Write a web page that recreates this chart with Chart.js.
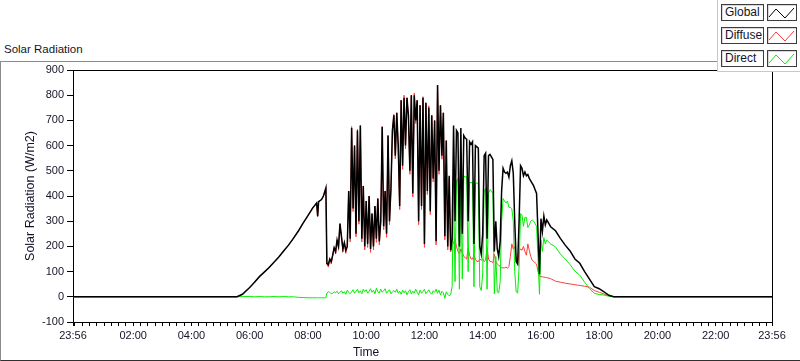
<!DOCTYPE html>
<html>
<head>
<meta charset="utf-8">
<script src="https://cdn.jsdelivr.net/npm/chart.js@4.4.1/dist/chart.umd.min.js"></script>
<style>
    body { margin: 0; background: #fff; font-family: "Liberation Sans", Arial, sans-serif; color: #141428; }
    #wrap { position: relative; width: 800px; height: 361px; overflow: hidden; }
    #frame { position: absolute; left: 0; top: 61px; width: 800px; height: 300px; box-sizing: border-box;
        border-top: 1px solid #8c8c8c; border-left: 1px solid #8c8c8c; border-bottom: 1px solid #303030; }
    #caption { position: absolute; left: 4px; top: 43px; font-size: 11.5px; }
    #chart { position: absolute; left: 0; top: 0; }
    #legend { position: absolute; left: 717px; top: 0; width: 83px; height: 72px; background: #fff;
        box-sizing: border-box; border-left: 1px solid #c8c8c8; border-bottom: 1px solid #c8c8c8; }
    .lg-name { position: absolute; left: 3px; width: 43px; height: 17px; box-sizing: border-box;
        border: 1px solid #3c3c3c; box-shadow: inset 1px 1px 0 #d8d8d8; font-size: 12px; line-height: 15px;
        padding-left: 3px; background: #fff; white-space: nowrap; }
    .lg-line { position: absolute; left: 49px; width: 30px; height: 17px; box-sizing: border-box;
        border: 1px solid #3c3c3c; box-shadow: inset 1px 1px 0 #d8d8d8; background: #fff; }
    .lg-line svg { position: absolute; left: 0; top: 0; }
</style>
</head>
<body>
<div id="wrap">
    <div id="frame"></div>
    <div id="caption">Solar Radiation</div>
    <canvas id="chart" width="800" height="361"></canvas>
    <div id="legend"></div>
</div>
<script>
// minutes after midnight (-4 = 23:56 of the previous day)
const times = [
    -4, 334, 345, 360, 370, 380, 390, 400, 410, 420, 430, 440, 450, 460, 470, 480, 490, 498, 500, 502, 508, 512, 517,
    519, 522, 525, 528, 531, 534, 537, 540, 543, 546,
    549, 552, 555, 558, 561, 564, 567, 570, 573, 576,
    579, 582, 585, 588, 591, 594, 597, 600, 603, 606,
    609, 612, 615, 618, 621, 624, 627, 630, 633, 636,
    639, 642, 645, 648, 651, 654, 657, 660, 663, 666,
    669, 672, 675, 678, 681, 684, 687, 690, 693, 696,
    699, 702, 705, 708, 711, 714, 717, 720, 723, 726,
    729, 732, 735, 738, 741, 744, 747, 750, 753, 756,
    759, 762, 765, 768, 771, 774,
    777, 780, 783, 786, 789, 792, 795, 798, 801, 804,
    807, 810, 813, 816, 819, 822, 825, 828, 831, 834,
    837, 840, 843, 846, 849, 852, 855, 858, 861, 864,
    867, 870, 873, 876, 879, 882, 885, 888, 891, 894,
    897, 900, 903, 906, 909, 912, 915, 918, 921, 924,
    927, 930, 933, 936, 939, 942, 945, 948, 951, 954,
    957, 960, 963, 966, 969, 972,
    980, 990, 1000, 1010, 1020, 1030, 1040, 1050, 1060, 1070, 1080, 1090, 1100, 1110, 1436
];

const globalRad = [
    0, 0, 10, 37, 58, 80, 98, 116, 137, 158, 182, 205, 232, 260, 292, 322, 353, 372, 320, 378, 386, 400, 432,
    133, 128, 150, 140, 165, 195, 180, 225, 200, 290,
    240, 190, 215, 185, 200, 420, 230, 670, 350, 600,
    250, 660, 300, 680, 230, 440, 200, 380, 210, 400,
    190, 330, 200, 360, 230, 390, 220, 300, 675, 280,
    420, 250, 640, 300, 430, 660, 720, 560, 730, 600,
    360, 780, 520, 790, 600, 790, 720, 500, 800, 410,
    800, 700, 780, 300, 760, 360, 790, 210, 770, 420,
    750, 340, 720, 470, 700, 220, 840, 500, 760, 560,
    730, 240, 620, 200, 480, 185,
    230, 680, 300, 660, 650, 200, 670, 250, 640, 630,
    625, 300, 615, 605, 615, 210, 600, 595, 590, 200,
    170, 250, 560, 570, 230, 560, 565, 555, 545, 180,
    300, 190, 160, 220, 420, 510, 495, 490, 495, 475,
    520, 540, 490, 300, 140, 130, 300, 520, 510, 480,
    495, 480, 485, 470, 460, 450, 440, 425, 410, 250,
    90, 310, 260, 320, 285, 305,
    278, 262, 232, 205, 182, 150, 133, 100, 70, 40, 32, 20, 6, 0, 0
];

const diffuseRad = [
    0, 0, 10, 37, 58, 80, 98, 118, 137, 158, 184, 205, 232, 262, 292, 322, 355, 372, 318, 378, 386, 402, 432,
    130, 118, 150, 130, 165, 195, 170, 225, 190, 292,
    240, 178, 215, 172, 200, 420, 218, 676, 338, 600,
    238, 665, 288, 680, 218, 440, 186, 380, 196, 400,
    176, 330, 186, 360, 216, 390, 206, 300, 675, 266,
    420, 236, 640, 286, 430, 660, 724, 548, 730, 588,
    346, 780, 506, 800, 588, 790, 708, 486, 800, 396,
    808, 688, 780, 286, 760, 346, 794, 196, 770, 406,
    758, 326, 720, 456, 700, 206, 840, 486, 760, 546,
    730, 226, 620, 186, 470, 178,
    200, 215, 230, 200, 180, 170, 190, 175, 160, 155,
    150, 195, 165, 150, 150, 165, 150, 140, 140, 150,
    145, 150, 140, 145, 195, 150, 140, 140, 135, 170,
    140, 130, 125, 120, 115, 115, 115, 118, 113, 120,
    160, 210, 190, 200, 150, 130, 180, 190, 185, 200,
    180, 165, 210, 185, 160, 145, 140, 135, 130, 100,
    82, 80, 79, 78, 77, 76,
    72, 62, 58, 54, 51, 48, 45, 42, 38, 25, 18, 11, 4, 0, 0
];

const directRad = [
    0, 0, 1, 1, 0, 1, 0, 0, 1, 0, 1, 0, 0, -2, -3, -4, -4, -4, -4, -4, -4, -4, -4,
    15, 20, 18, 12, 14, 20, 16, 22, 12, 18,
    24, 14, 20, 10, 26, 18, 12, 20, 28, 14,
    22, 30, 16, 24, 12, 30, 20, 28, 14, 22,
    32, 18, 26, 12, 34, 20, 15, 30, 18, 24,
    32, 14, 22, 28, 12, 20, 25, 18, 30, 14,
    22, 10, 26, 16, 24, 8, 20, 28, 12, 22,
    15, 30, 18, 8, 26, 14, 22, 30, 12, 20,
    28, 16, 10, 24, 18, 30, 14, 26, 8, 22,
    16, -6, 20, 10, 4, 8,
    40, 450, 60, 460, 470, 30, 480, 70, 480, 475,
    478, 100, 455, 452, 455, 40, 450, 452, 448, 40,
    25, 90, 420, 430, 30, 410, 425, 420, 410, 12,
    160, 20, 15, 60, 300, 390, 380, 372, 380, 355,
    355, 350, 300, 100, 20, 15, 120, 330, 325, 280,
    315, 315, 275, 285, 300, 305, 300, 290, 280, 150,
    10, 225, 180, 235, 210, 225,
    210, 198, 170, 150, 128, 102, 86, 58, 32, 14, 9, 7, 2, 0, 0
];

const majorTicks = [-4, 120, 240, 360, 480, 600, 720, 840, 960, 1080, 1200, 1320, 1436];
const timeLabels = ['23:56', '02:00', '04:00', '06:00', '08:00', '10:00', '12:00', '14:00', '16:00', '18:00', '20:00', '22:00', '23:56'];
const yTickValues = [-100, 0, 100, 200, 300, 400, 500, 600, 700, 800, 900];

const series = [
    { name: 'Global', values: globalRad, color: '#000000', width: 1.5 },
    { name: 'Diffuse', values: diffuseRad, color: '#ff3c3c', width: 1 },
    { name: 'Direct', values: directRad, color: '#00ee00', width: 1 }
];

const FONT = { family: '"Liberation Sans", Arial, sans-serif', size: 11 };
const TEXT_COLOR = '#141428';

// minor ticks every 15 min plus the two 23:56 ends
const xTicks = [...majorTicks];
for (let m = 0; m < 1436; m += 15) {
    if (!xTicks.includes(m)) xTicks.push(m);
}
xTicks.sort((a, b) => a - b);

const toPoints = (values) => times.map((t, i) => ({ x: t, y: values[i] }));

const framePlugin = {
    id: 'frame',
    afterDraw: (chart) => {
        const { ctx, chartArea } = chart;
        const l = Math.round(chartArea.left) + 0.5;
        const r = Math.round(chartArea.right) + 0.5;
        const t = Math.round(chartArea.top) + 0.5;
        const b = Math.round(chartArea.bottom) + 0.5;
        ctx.save();
        ctx.strokeStyle = '#000';
        ctx.lineWidth = 1;
        ctx.beginPath();
        ctx.moveTo(l, t);
        ctx.lineTo(r, t);
        ctx.lineTo(r, b);
        ctx.stroke();

        ctx.fillStyle = TEXT_COLOR;
        ctx.textAlign = 'center';
        ctx.textBaseline = 'middle';
        ctx.font = '12px "Liberation Sans", Arial, sans-serif';
        ctx.fillText('Time', 366, 353);
        ctx.font = '12.5px "Liberation Sans", Arial, sans-serif';
        ctx.translate(31, (chartArea.top + chartArea.bottom) / 2);
        ctx.rotate(-Math.PI / 2);
        ctx.fillText('Solar Radiation (W/m2)', 0, 0);
        ctx.restore();
    }
};

const ctx = document.getElementById('chart');

new Chart(ctx, {
    type: 'scatter',
    data: {
        datasets: series.map((s, i) => ({
            label: s.name,
            data: toPoints(s.values),
            showLine: true,
            borderColor: s.color,
            backgroundColor: s.color,
            borderWidth: s.width,
            pointRadius: 0,
            // Global on top, Diffuse at the bottom
            order: [1, 3, 2][i]
        }))
    },
    options: {
        responsive: false,
        animation: false,
        layout: { padding: { top: 70, right: 28, left: 0, bottom: 0 } },
        plugins: { legend: { display: false }, tooltip: { enabled: false } },
        scales: {
            x: {
                type: 'linear',
                min: -4,
                max: 1436,
                afterBuildTicks: (scale) => { scale.ticks = xTicks.map(v => ({ value: v })); },
                afterFit: (scale) => { scale.height = 39; },
                grid: { drawOnChartArea: false, tickLength: 4, color: '#000' },
                border: { color: '#000', width: 1 },
                ticks: {
                    autoSkip: false,
                    maxRotation: 0,
                    padding: 3,
                    color: TEXT_COLOR,
                    font: FONT,
                    callback: (v) => {
                        const k = majorTicks.indexOf(v);
                        return k >= 0 ? timeLabels[k] : '';
                    }
                }
            },
            y: {
                min: -100,
                max: 900,
                afterBuildTicks: (scale) => { scale.ticks = yTickValues.map(v => ({ value: v })); },
                afterFit: (scale) => { scale.width = 73; },
                grid: { drawOnChartArea: false, tickLength: 6, color: '#000' },
                border: { color: '#000', width: 1 },
                ticks: { padding: 3, color: TEXT_COLOR, font: FONT }
            }
        }
    },
    plugins: [framePlugin]
});

// legend boxes
const legend = document.getElementById('legend');
series.forEach((s, i) => {
    const top = 4 + i * 23;
    const name = document.createElement('div');
    name.className = 'lg-name';
    name.style.top = top + 'px';
    name.textContent = s.name;
    const line = document.createElement('div');
    line.className = 'lg-line';
    line.style.top = top + 'px';
    line.innerHTML = `<svg width="30" height="17"><polyline points="1,12 8,4 17,13 26,3" fill="none" stroke="${s.color}" stroke-width="1"/></svg>`;
    legend.appendChild(name);
    legend.appendChild(line);
});
</script>
</body>
</html>
